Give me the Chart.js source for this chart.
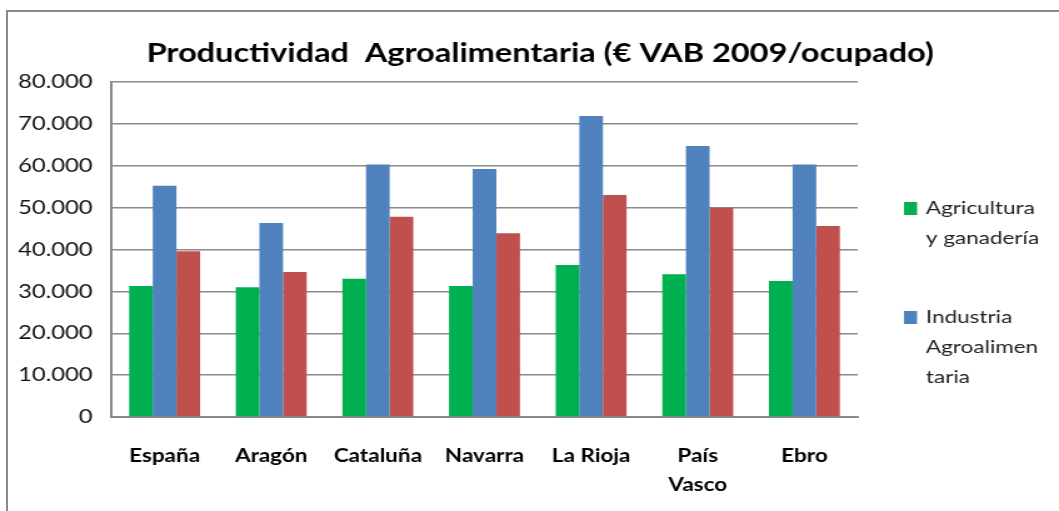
<!DOCTYPE html>
<html>
<head>
<meta charset="utf-8">
<script src="https://cdn.jsdelivr.net/npm/chart.js@4.4.0/dist/chart.umd.min.js"></script>
<style>
  body { margin: 0; background: #fff; }
  #frame {
    position: absolute; left: 6px; top: 10px; width: 1200px; height: 600px;
    border-top: 2px solid #8a8a8a; border-left: 2px solid #8a8a8a;
  }
  /* the original picture is stretched sideways, so the canvas is too */
  canvas { position: absolute; left: 0; top: 0; width: 1059px; height: 511px; }
</style>
</head>
<body>
<div id="frame"></div>
<canvas id="chart" width="847" height="511" style="width:1059px;height:511px"></canvas>
<script>
// Data
const regiones = ['España', 'Aragón', 'Cataluña', 'Navarra', 'La Rioja', ['País', 'Vasco'], 'Ebro'];
const agricultura = [31300, 31000, 33000, 31300, 36300, 34100, 32500];
const industria = [55200, 46300, 60300, 59200, 71900, 64700, 60300];
const total = [39600, 34600, 47800, 43900, 53000, 50000, 45600];
const leyendaAgricultura = ['Agricultura', 'y ganadería'];
const leyendaIndustria = ['Industria', 'Agroalimen', 'taria'];
const titulo = 'Productividad  Agroalimentaria (€ VAB 2009/ocupado)';
const yMin = 0, yMax = 80000, yStep = 10000;

const FONT = 'Lato';

// thousand separator with a dot, like the original
const fmt = v => String(v).replace(/\B(?=(\d{3})+(?!\d))/g, '.');

// title + wrapped legend on the right
const extras = {
  id: 'extras',
  afterDraw(chart) {
    const ctx = chart.ctx;
    const area = chart.chartArea;
    ctx.save();
    ctx.fillStyle = '#000';
    ctx.font = `bold 26px ${FONT}`;
    ctx.textAlign = 'center';
    ctx.textBaseline = 'alphabetic';
    ctx.fillText(titulo, 432, 62);

    ctx.font = `18px ${FONT}`;
    ctx.textAlign = 'left';
    ctx.textBaseline = 'middle';
    const items = [
      { color: chart.data.datasets[0].backgroundColor, lines: leyendaAgricultura },
      { color: chart.data.datasets[1].backgroundColor, lines: leyendaIndustria }
    ];
    let y = area.top + 126;
    const x = area.right + 37;
    items.forEach(it => {
      ctx.fillStyle = it.color;
      ctx.fillRect(x, y - 6, 10.5, 13);
      ctx.fillStyle = '#222';
      it.lines.forEach((ln, i) => ctx.fillText(ln, x + 17.5, y + i * 30));
      y += 109;
    });
    ctx.restore();
  }
};

new Chart(document.getElementById('chart'), {
  type: 'bar',
  data: {
    labels: regiones,
    datasets: [
      { label: leyendaAgricultura.join(' '), data: agricultura, backgroundColor: '#00b050' },
      { label: leyendaIndustria.join(''), data: industria, backgroundColor: '#4f81bd' },
      { label: 'Total', data: total, backgroundColor: '#c0504d' }
    ]
  },
  options: {
    responsive: false,
    animation: false,
    devicePixelRatio: 1,
    layout: { padding: { top: 82, right: 161, bottom: 0, left: 0 } },
    datasets: { bar: { barPercentage: 1, categoryPercentage: 0.665 } },
    plugins: {
      legend: { display: false },
      title: { display: false },
      tooltip: { enabled: false }
    },
    scales: {
      x: {
        grid: { display: false, drawTicks: false },
        border: { color: '#8a8a8a', width: 2 },
        ticks: { color: '#000', font: { family: FONT, size: 18, weight: 'bold', lineHeight: 1.65 }, padding: 24, maxRotation: 0 },
        afterFit: s => { s.height = 511 - 417; }
      },
      y: {
        min: yMin, max: yMax,
        grid: { color: '#8a8a8a', lineWidth: 1.5, drawTicks: false },
        border: { color: '#8a8a8a', width: 2 },
        ticks: { stepSize: yStep, color: '#111', font: { family: FONT, size: 19 }, padding: 15, callback: v => fmt(v) },
        afterFit: s => { s.width = 89; }
      }
    }
  },
  plugins: [extras]
});
</script>
</body>
</html>
